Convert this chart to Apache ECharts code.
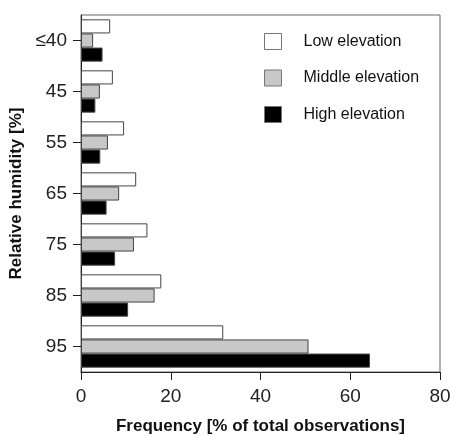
<!DOCTYPE html>
<html><head><meta charset="utf-8">
<script src="https://cdn.jsdelivr.net/npm/echarts@6/dist/echarts.min.js"></script>
<style>html,body{margin:0;padding:0;background:#fff}#c{width:451px;height:436px}</style>
</head><body><div id="c"></div>
<script>
const categories = ['≤40', '45', '55', '65', '75', '85', '95'];
const lowElev = [6.5, 7.1, 9.6, 12.3, 14.8, 17.9, 31.7];
const midElev = [2.7, 4.2, 6.0, 8.5, 11.8, 16.4, 50.7];
const highElev = [4.8, 3.2, 4.3, 5.7, 7.6, 10.5, 64.4];
const xTicks = [0, 20, 40, 60, 80];

const FONT = '"Liberation Sans", Arial, sans-serif';
const chart = echarts.init(document.getElementById('c'));
const barStyle = (fill) => ({ color: fill, borderColor: '#444', borderWidth: 1 });
chart.setOption({
  animation: false,
  backgroundColor: '#fff',
  textStyle: { fontFamily: FONT },
  grid: { left: 81, right: 11, top: 15, bottom: 64, outerBoundsMode: 'none', containLabel: false, show: true, borderColor: '#666', borderWidth: 1, backgroundColor: 'transparent' },
  legend: {
    orient: 'vertical', left: 259, top: 28,
    icon: 'rect', itemWidth: 17, itemHeight: 16, itemGap: 19.5,
    itemStyle: { borderWidth: 1, borderColor: '#777' },
    textStyle: { fontFamily: FONT, fontSize: 16, color: '#111', padding: [0, 0, 0, 17] },
    data: ['Low elevation', 'Middle elevation', 'High elevation']
  },
  xAxis: {
    type: 'value', min: 0, max: 80, interval: 20,
    name: 'Frequency [% of total observations]', nameLocation: 'middle', nameGap: 46,
    nameTextStyle: { fontFamily: FONT, fontSize: 17, fontWeight: 'bold', color: '#111' },
    axisLine: { show: true, lineStyle: { color: '#222', width: 1 } },
    axisTick: { show: true, length: 8, lineStyle: { color: '#222' } },
    axisLabel: { fontFamily: FONT, fontSize: 19, color: '#222', margin: 15, formatter: v => xTicks.includes(v) ? String(v) : '' },
    splitLine: { show: false }
  },
  yAxis: {
    type: 'category', data: categories, inverse: true,
    name: 'Relative humidity [%]', nameLocation: 'middle', nameGap: 49, nameRotate: 90,
    nameTextStyle: { fontFamily: FONT, fontSize: 17, fontWeight: 'bold', color: '#111' },
    axisLine: { show: true, lineStyle: { color: '#222', width: 1 } },
    axisTick: { show: true, alignWithLabel: true, length: 8, lineStyle: { color: '#222' } },
    axisLabel: { fontFamily: FONT, fontSize: 19, color: '#222', margin: 14 }
  },
  series: [
    { name: 'Low elevation', type: 'bar', data: lowElev, itemStyle: barStyle('#ffffff'), barGap: '0%', barCategoryGap: '17%' },
    { name: 'Middle elevation', type: 'bar', data: midElev, itemStyle: barStyle('#c8c8c8'), barGap: '0%', barCategoryGap: '17%' },
    { name: 'High elevation', type: 'bar', data: highElev, itemStyle: barStyle('#000000'), barGap: '0%', barCategoryGap: '17%' }
  ]
});
</script></body></html>
